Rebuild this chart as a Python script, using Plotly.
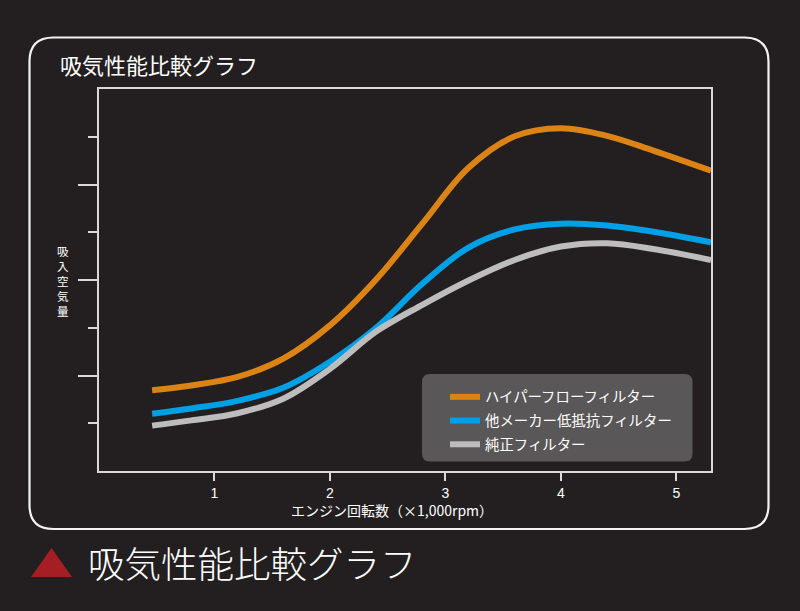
import plotly.graph_objects as go

# ---- data ----
rpm = [0.46, 0.8, 1.2, 1.6, 2.0, 2.4, 2.8, 3.2, 3.6, 4.0, 4.4, 4.8, 5.3]
air_hyperflow = [1.69, 1.79, 1.97, 2.36, 3.05, 4.01, 5.18, 6.35, 7.01, 7.18, 7.02, 6.71, 6.29]
air_other = [1.20, 1.31, 1.47, 1.75, 2.29, 3.00, 3.92, 4.68, 5.06, 5.18, 5.14, 5.01, 4.79]
air_stock = [0.95, 1.06, 1.21, 1.52, 2.14, 2.92, 3.48, 3.99, 4.42, 4.70, 4.77, 4.65, 4.42]

series_names = ["ハイパーフローフィルター", "他メーカー低抵抗フィルター", "純正フィルター"]
series_colors = ["#DB8315", "#00A0E6", "#BDBDBE"]
x_ticks = [1, 2, 3, 4, 5]
y_major = [2, 4, 6]
y_minor = [1, 3, 5, 7]

chart_title = "吸気性能比較グラフ"
y_title = "吸入空気量"
x_title = "エンジン回転数（×1,000rpm）"

# ---- layout geometry ----
W, H = 800, 611
L, R, T, B = 99, 89, 89, 140
PW, PH = W - L - R, H - T - B
BG = "#231F20"
LINE = "#D9D9D9"
FONT = "Noto Sans CJK JP, Noto Sans, sans-serif"


def px(xp):
    return (xp - L) / PW


def py(yp):
    return (H - B - yp) / PH


def rounded_rect(x0, y0, x1, y1, r):
    rx, ry = r / PW, r / PH
    a0, b0, a1, b1 = px(x0), py(y1), px(x1), py(y0)  # b0 bottom, b1 top
    return (f"M {a0+rx},{b1} L {a1-rx},{b1} Q {a1},{b1} {a1},{b1-ry} "
            f"L {a1},{b0+ry} Q {a1},{b0} {a1-rx},{b0} L {a0+rx},{b0} "
            f"Q {a0},{b0} {a0},{b0+ry} L {a0},{b1-ry} Q {a0},{b1} {a0+rx},{b1} Z")


fig = go.Figure()
for i, (ys, name, col) in enumerate(zip([air_hyperflow, air_other, air_stock],
                                        series_names, series_colors)):
    fig.add_trace(go.Scatter(x=rpm, y=ys, mode="lines", name=name, legendgroup=f"g{i}",
                             line=dict(color=col, width=6, shape="spline", smoothing=1.0)))

shapes = [
    # outer rounded frame
    dict(type="path", xref="paper", yref="paper", path=rounded_rect(29.5, 37.5, 768.5, 529, 24),
         line=dict(color="#F2F2F2", width=2.2), fillcolor="rgba(0,0,0,0)", layer="below"),
    # legend panel
    dict(type="path", xref="paper", yref="paper", path=rounded_rect(422, 374, 692.5, 461.5, 8),
         line=dict(width=0), fillcolor="#595757", layer="above"),
    # red triangle marker before the caption
    dict(type="path", xref="paper", yref="paper",
         path=f"M {px(31)},{py(577)} L {px(72)},{py(577)} L {px(51.5)},{py(548)} Z",
         line=dict(width=0), fillcolor="#A51E24"),
]

annotations = [
    dict(text=chart_title, xref="paper", yref="paper", x=px(58), y=py(64), xanchor="left",
         yanchor="middle", showarrow=False, font=dict(family=FONT, size=22, color="#FFFFFF")),
    dict(text=x_title, xref="paper", yref="paper", x=px(392), y=py(510), xanchor="center",
         yanchor="middle", showarrow=False, font=dict(family=FONT, size=14, color="#FFFFFF")),
    dict(text=chart_title, xref="paper", yref="paper", x=px(86), y=py(562), xanchor="left",
         yanchor="middle", showarrow=False,
         font=dict(family=FONT, size=36.5, color="#FFFFFF", weight=300)),
    # vertical (stacked) y-axis title, one character per line
    dict(text="<br>".join(list(y_title)), xref="paper", yref="paper", x=px(63), y=py(281),
         xanchor="center", yanchor="middle", showarrow=False, align="center",
         font=dict(family=FONT, size=11.5, color="#FFFFFF")),
]

fig.update_layout(
    width=W, height=H,
    margin=dict(l=L, r=R, t=T, b=B, pad=0),
    paper_bgcolor=BG, plot_bgcolor=BG,
    font=dict(family=FONT, color="#FFFFFF"),
    shapes=shapes, annotations=annotations,
    showlegend=True,
    legend=dict(x=px(445), y=py(381), xanchor="left", yanchor="top",
                bgcolor="rgba(0,0,0,0)", borderwidth=0, traceorder="grouped",
                font=dict(family=FONT, size=14.4, color="#FFFFFF"),
                itemwidth=30, tracegroupgap=2),
    xaxis=dict(range=[0, 5.3], tickvals=x_ticks, ticktext=[str(v) for v in x_ticks],
               showgrid=False, zeroline=False, showline=True, linecolor=LINE, linewidth=1.5,
               mirror=True, ticks="outside", ticklen=8, tickwidth=1.5, tickcolor=LINE,
               ticklabelstandoff=0,
               tickfont=dict(family="Liberation Sans, Arial, sans-serif", size=14, color="#FFFFFF")),
    yaxis=dict(range=[0, 8], tickvals=y_major, showticklabels=False,
               showgrid=False, zeroline=False, showline=True, linecolor=LINE, linewidth=1.5,
               mirror=True, ticks="outside", ticklen=19, tickwidth=1.5, tickcolor=LINE,
               minor=dict(tickvals=y_minor, ticks="outside", ticklen=9, tickwidth=1.5,
                          tickcolor=LINE, showgrid=False)),
)

fig.write_html("out.html", config={"displayModeBar": False},
               post_script="document.body.style.margin='0';")
